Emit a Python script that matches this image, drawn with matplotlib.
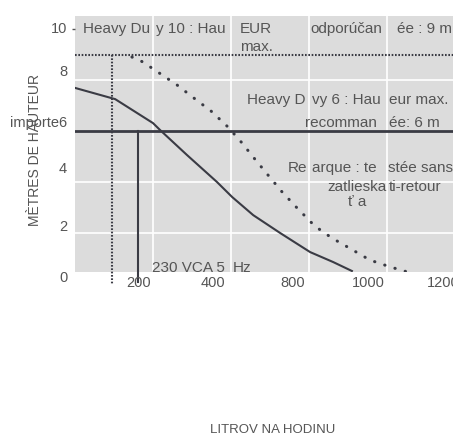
import matplotlib
matplotlib.use("Agg")
import matplotlib.pyplot as plt

# ─── Data ─────────────────────────────────────────────────────────────────────

# Heavy Duty 6 pump curve (solid)
hd6_flow = [0, 103, 200, 218, 287, 364, 403, 457, 526, 603, 662, 710]
hd6_head = [7.69, 7.25, 6.31, 6.04, 5.06, 4.0, 3.41, 2.7, 2.0, 1.25, 0.86, 0.51]

# Heavy Duty 10 pump curve (dotted)
hd10_flow = [146, 169, 197, 262, 305, 349, 392, 426, 459, 495, 531, 567,
             615, 659, 708, 756, 808, 862]
hd10_head = [8.9, 8.75, 8.47, 7.8, 7.29, 6.78, 6.16, 5.57, 4.94, 4.27, 3.61,
             3.02, 2.27, 1.80, 1.37, 0.94, 0.67, 0.43]

recommended_hd10 = 9
recommended_hd6 = 6
flow_hd10 = 95
flow_hd6 = 162

grid_x = [200, 400, 600, 800, 1000]
grid_y = [2, 4, 8]

xtick_pos = [162, 354, 559, 751, 944]
xtick_labels = ["200", "400", "800", "1000", "1200"]
ytick_pos = [10.0, 8.3, 6.3, 4.5, 2.25, 0.25]
ytick_labels = ["10", "8", "importe6", "4", "2", "0"]

# text fragments: (text, x, y)
notes = [
    ("Heavy Du", 20, 10.0), ("y 10 : Hau", 208, 10.0), ("EUR", 423, 10.0),
    ("max.", 423, 9.29), ("odporúčan", 603, 10.0), ("ée : 9 m", 826, 10.0),
    ("Heavy D", 441, 7.22), ("vy 6 : Hau", 608, 7.22), ("eur max.", 805, 7.22),
    ("recomman", 590, 6.31), ("ée: 6 m", 805, 6.31),
    ("Re", 546, 4.55), ("arque : te", 608, 4.55), ("stée sans", 803, 4.55),
    ("zatlieska", 646, 3.80), ("ti-retour", 805, 3.80), ("ť a", 700, 3.22),
    ("230 VCA 5", 198, 0.63), ("Hz", 405, 0.63),
]

# ─── Style ────────────────────────────────────────────────────────────────────

plt.rcParams["font.family"] = ["Liberation Sans", "DejaVu Sans"]
TEXT = "#555555"
LINE = "#3a3b44"

fig = plt.figure(figsize=(4.53, 4.37), dpi=100)
ax = fig.add_axes([75 / 453, 165 / 437, 429 / 453, 256 / 437])
ax.set_facecolor("#dcdcdc")
for s in ax.spines.values():
    s.set_visible(False)

ax.set_xlim(0, 1100)
ax.set_ylim(0.47, 10.51)

ax.set_xticks(grid_x)
ax.set_yticks(grid_y)
ax.tick_params(length=0, labelleft=False, labelbottom=False)
ax.grid(True, color="white", lw=1.2)
ax.set_axisbelow(True)
ax.set_yticks([10], minor=True)
ax.tick_params(axis="y", which="minor", length=2.5, width=1, color=TEXT)
ax.tick_params(axis="x", which="minor", length=0)

# ─── Lines ────────────────────────────────────────────────────────────────────

ax.axhline(recommended_hd10, color=LINE, lw=1.5, ls=(0, (0.8, 0.8)))
ax.plot([flow_hd10, flow_hd10], [recommended_hd10, -0.05], color=LINE,
        lw=1.5, ls=(0, (0.8, 0.8)), clip_on=False)
ax.axhline(recommended_hd6, color=LINE, lw=2)
ax.plot([flow_hd6, flow_hd6], [recommended_hd6, 0.08], color=LINE, lw=1.5,
        clip_on=False)

ax.plot(hd6_flow, hd6_head, color=LINE, lw=1.5)
ax.plot(hd10_flow, hd10_head, color=LINE, lw=2.2, ls=(0, (0.1, 3.4)),
        dash_capstyle="round")

# ─── Text ─────────────────────────────────────────────────────────────────────

for txt, x, y in notes:
    ax.text(x, y, txt, ha="left", va="center", fontsize=11, color=TEXT)

for pos, lab in zip(xtick_pos, xtick_labels):
    ax.text(pos, 0.04, lab, ha="center", va="center", fontsize=10.5,
            color=TEXT, clip_on=False)
for pos, lab in zip(ytick_pos, ytick_labels):
    ax.text(-20, pos, lab, ha="right", va="center", fontsize=10.5,
            color=TEXT, clip_on=False)

fig.text(35 / 453, 1 - 150 / 437, "MÈTRES DE HAUTEUR", rotation=90,
         ha="center", va="center", fontsize=10, color=TEXT)
fig.text(273 / 453, 1 - 430 / 437, "LITROV NA HODINU", ha="center",
         va="center", fontsize=9.5, color=TEXT)

fig.savefig("out.png", dpi=100)
